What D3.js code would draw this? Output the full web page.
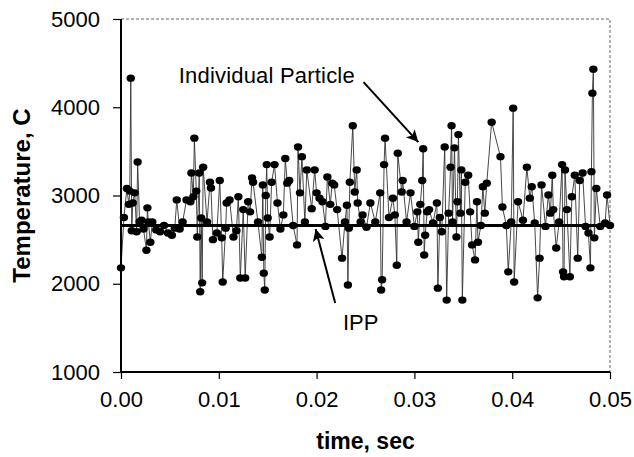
<!DOCTYPE html>
<html>
<head>
<meta charset="utf-8">
<script src="https://cdn.jsdelivr.net/npm/d3@7"></script>
<style>
  body { margin: 0; background: #fff; }
  svg text { font-family: "Liberation Sans", Arial, sans-serif; fill: #000; }
  .tick text { font-size: 22px; }
  .axis-title { font-size: 23px; font-weight: bold; }
  .note { font-size: 22px; }
</style>
</head>
<body>
<script>
// particle temperature readings (time in s, temperature in C)
const times = [
  0.0000, 0.0003, 0.0006, 0.0008, 0.0009, 0.0010, 0.0011, 0.0012, 0.0014, 0.0016,
  0.0017, 0.0019, 0.0021, 0.0023, 0.0026, 0.0027, 0.0028, 0.0030, 0.0032, 0.0036,
  0.0040, 0.0044, 0.0048, 0.0052, 0.0055, 0.0057, 0.0060, 0.0063, 0.0067, 0.0071,
  0.0072, 0.0074, 0.0075, 0.0077, 0.0078, 0.0080, 0.0081, 0.0082, 0.0083, 0.0084,
  0.0088, 0.0091, 0.0092, 0.0094, 0.0098, 0.0101, 0.0103, 0.0104, 0.0107, 0.0108,
  0.0111, 0.0115, 0.0118, 0.0120, 0.0122, 0.0125, 0.0127, 0.0130, 0.0132, 0.0134,
  0.0135, 0.0140, 0.0144, 0.0145, 0.0146, 0.0147, 0.0148, 0.0149, 0.0150, 0.0152,
  0.0154, 0.0157, 0.0160, 0.0163, 0.0166, 0.0168, 0.0170, 0.0172, 0.0176, 0.0180,
  0.0181, 0.0183, 0.0185, 0.0188, 0.0190, 0.0195, 0.0198, 0.0200, 0.0203, 0.0206,
  0.0209, 0.0211, 0.0214, 0.0216, 0.0218, 0.0221, 0.0226, 0.0229, 0.0231, 0.0232,
  0.0233, 0.0234, 0.0237, 0.0239, 0.0241, 0.0242, 0.0245, 0.0247, 0.0251, 0.0255,
  0.0260, 0.0265, 0.0266, 0.0267, 0.0269, 0.0270, 0.0274, 0.0278, 0.0280, 0.0282,
  0.0283, 0.0287, 0.0288, 0.0292, 0.0296, 0.0300, 0.0303, 0.0304, 0.0306, 0.0308,
  0.0309, 0.0310, 0.0311, 0.0313, 0.0315, 0.0319, 0.0323, 0.0324, 0.0326, 0.0328,
  0.0331, 0.0333, 0.0335, 0.0337, 0.0338, 0.0339, 0.0341, 0.0343, 0.0344, 0.0345,
  0.0347, 0.0348, 0.0349, 0.0352, 0.0355, 0.0357, 0.0359, 0.0362, 0.0364, 0.0365,
  0.0368, 0.0370, 0.0372, 0.0374, 0.0379, 0.0388, 0.0390, 0.0394, 0.0396, 0.0399,
  0.0401, 0.0402, 0.0406, 0.0411, 0.0415, 0.0418, 0.0420, 0.0423, 0.0426, 0.0428,
  0.0430, 0.0434, 0.0437, 0.0439, 0.0441, 0.0442, 0.0445, 0.0448, 0.0451, 0.0452,
  0.0453, 0.0454, 0.0456, 0.0459, 0.0461, 0.0464, 0.0467, 0.0469, 0.0472, 0.0475,
  0.0478, 0.0480, 0.0481, 0.0482, 0.0483, 0.0484, 0.0486, 0.0490, 0.0495, 0.0497,
  0.0500
];
const temps = [
  2180, 2750, 3080, 2900, 3050, 4330, 2600, 2915, 3030, 2590,
  3380, 2700, 2720, 2620, 2380, 2860, 2700, 2470, 2700, 2610,
  2590, 2660, 2575, 2550, 2630, 2950, 2620, 2700, 2950, 2930,
  3255, 2985, 3650, 3050, 2530, 3255, 1910, 2745, 2010, 3320,
  2700, 3150, 3085, 2500, 2575, 3170, 2520, 2020, 2630, 2915,
  2950, 2530, 2600, 2985, 2065, 2840, 2065, 2930, 2815, 3200,
  3150, 2700, 2300, 3120, 2120, 1930, 3000, 3350, 2745, 2530,
  3150, 3350, 2915, 2620, 2780, 3420, 3140, 3170, 2660, 2440,
  3550, 3030, 3440, 2700, 3290, 2850, 3290, 3030, 2970, 2930,
  2650, 3210, 2900, 3140, 3120, 2840, 2290, 2700, 2890, 1985,
  2630, 3150, 3790, 3040, 3290, 2915, 2700, 2780, 2640, 2915,
  2700, 3030, 1930, 2045, 3350, 3650, 2750, 2970, 2780, 2210,
  3480, 3040, 3170, 2700, 3030, 2650, 2815, 2470, 2900, 3170,
  3530, 2325, 2550, 2815, 2840, 2690, 2915, 1950, 2750, 2590,
  3550, 1815, 2800, 3320, 3790, 2700, 3540, 2530, 2930, 3690,
  2800, 3290, 1815, 3150, 3230, 2815, 2440, 2270, 2930, 2470,
  2660, 3100, 2800, 3140, 3830, 3440, 2870, 2660, 2135, 2700,
  3990, 2020, 2930, 2720, 3320, 2970, 3100, 2690, 1840, 2290,
  3120, 2650, 3005, 2800, 3230, 2840, 2405, 2700, 3350, 2135,
  2080, 3290, 2840, 2080, 2985, 3230, 2290, 3170, 3255, 2650,
  2575, 2180, 3270, 4160, 4430, 2520, 3080, 2650, 2690, 3005,
  2660
];
const ippTemp = 2660;

const xTicks = [0, 0.01, 0.02, 0.03, 0.04, 0.05];
const yTicks = [1000, 2000, 3000, 4000, 5000];

const w = 634, h = 457;
const margin = {top: 19, right: 24, bottom: 85, left: 121};

const svg = d3.select("body")
  .append("svg")
  .attr("width", w)
  .attr("height", h);

const x = d3.scaleLinear()
  .domain([0, 0.05])
  .range([margin.left, w - margin.right]);
const y = d3.scaleLinear()
  .domain([1000, 5000])
  .range([h - margin.bottom, margin.top]);

// dotted frame on top and right
svg.append("path")
  .attr("d", `M${x(0)},${y(5000)}H${x(0.05)}V${y(1000)}`)
  .attr("fill", "none")
  .attr("stroke", "#666")
  .attr("stroke-width", 1)
  .attr("stroke-dasharray", "3,2");

const data = times.map((t, i) => ({t: t, v: temps[i]}));

const line = d3.line()
  .x(d => x(d.t))
  .y(d => y(d.v));

svg.append("path")
  .datum(data)
  .attr("fill", "none")
  .attr("stroke", "#333")
  .attr("stroke-width", 0.9)
  .attr("d", line);

svg.append("g")
  .selectAll("ellipse")
  .data(data)
  .enter()
  .append("ellipse")
  .attr("cx", d => x(d.t))
  .attr("cy", d => y(d.v))
  .attr("rx", 4.2)
  .attr("ry", 3.7)
  .attr("fill", "#000");

// IPP line
svg.append("line")
  .attr("x1", x(0)).attr("x2", x(0.05))
  .attr("y1", y(ippTemp)).attr("y2", y(ippTemp))
  .attr("stroke", "#000")
  .attr("stroke-width", 3);

let xAxis = d3.axisBottom(x)
  .tickValues(xTicks)
  .tickSize(7)
  .tickPadding(12)
  .tickFormat(d3.format(".2f"));

svg.append("g")
  .attr("transform", `translate(0, ${h - margin.bottom})`)
  .call(xAxis)
  .call(g => g.select(".domain").attr("stroke-width", 2).attr("d", `M${x(0)},0H${x(0.05)}`))
  .call(g => g.selectAll(".tick line").attr("stroke-width", 1.2));

let yAxis = d3.axisLeft(y)
  .tickValues(yTicks)
  .tickSize(8)
  .tickPadding(13)
  .tickFormat(d3.format("d"));

svg.append("g")
  .attr("transform", `translate(${margin.left}, 0)`)
  .call(yAxis)
  .call(g => g.select(".domain").attr("stroke-width", 2).attr("d", `M0,${y(5000)}V${y(1000)}`))
  .call(g => g.selectAll(".tick line").attr("stroke-width", 1.2));

svg.selectAll(".tick text").attr("font-family", null).attr("font-size", null);

svg.append("text")
  .attr("class", "axis-title")
  .attr("x", (x(0) + x(0.05)) / 2)
  .attr("y", 449)
  .attr("text-anchor", "middle")
  .text("time, sec");

svg.append("text")
  .attr("class", "axis-title")
  .attr("transform", `translate(30, ${(y(1000) + y(5000)) / 2}) rotate(-90)`)
  .attr("text-anchor", "middle")
  .style("font-size", "24px")
  .text("Temperature, C");

// annotations
svg.append("defs").append("marker")
  .attr("id", "head")
  .attr("viewBox", "0 0 10 10")
  .attr("refX", 10).attr("refY", 5)
  .attr("markerWidth", 7).attr("markerHeight", 6)
  .attr("markerUnits", "strokeWidth")
  .attr("orient", "auto")
  .append("path")
  .attr("d", "M0,0L10,5L0,10L2.5,5Z")
  .attr("fill", "#000");

svg.append("text")
  .attr("class", "note")
  .attr("x", x(0.0059))
  .attr("y", y(4275))
  .attr("textLength", 176)
  .text("Individual Particle");

svg.append("line")
  .attr("x1", x(0.0248)).attr("y1", y(4285))
  .attr("x2", x(0.0304)).attr("y2", y(3605))
  .attr("stroke", "#000")
  .attr("stroke-width", 2)
  .attr("marker-end", "url(#head)");

svg.append("text")
  .attr("class", "note")
  .attr("x", x(0.0227))
  .attr("y", y(1476))
  .text("IPP");

svg.append("line")
  .attr("x1", x(0.0219)).attr("y1", y(1782))
  .attr("x2", x(0.0199)).attr("y2", y(2620))
  .attr("stroke", "#000")
  .attr("stroke-width", 2)
  .attr("marker-end", "url(#head)");
</script>
</body>
</html>
